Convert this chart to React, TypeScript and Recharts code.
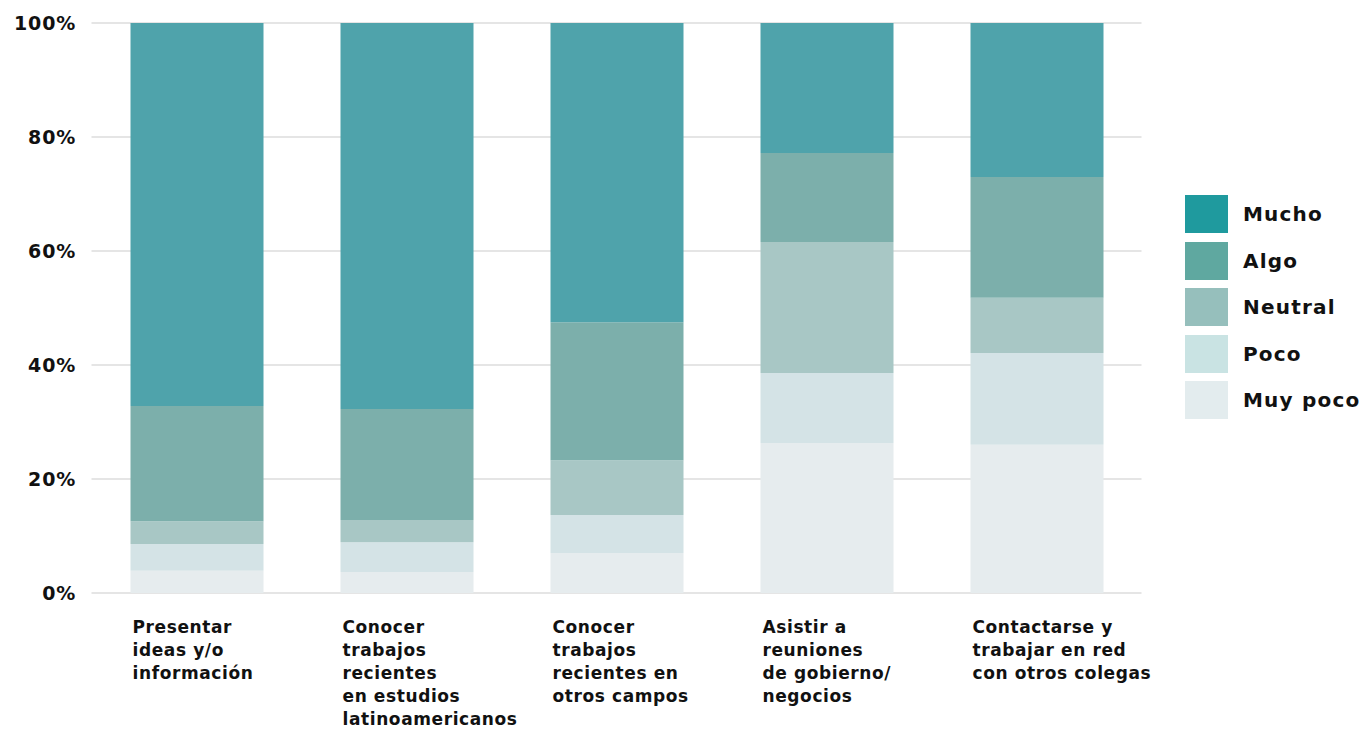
import React from "react";
import { BarChart, Bar, XAxis, YAxis, CartesianGrid } from "recharts";

const categories = [
  "Presentar ideas y/o información",
  "Conocer trabajos recientes en estudios latinoamericanos",
  "Conocer trabajos recientes en otros campos",
  "Asistir a reuniones de gobierno/ negocios",
  "Contactarse y trabajar en red con otros colegas",
];
const categoryLines = [
  ["Presentar", "ideas y/o", "información"],
  ["Conocer", "trabajos", "recientes", "en estudios", "latinoamericanos"],
  ["Conocer", "trabajos", "recientes en", "otros campos"],
  ["Asistir a", "reuniones", "de gobierno/", "negocios"],
  ["Contactarse y", "trabajar en red", "con otros colegas"],
];

const muyPoco = [3.9, 3.7, 7.0, 26.3, 26.0];
const poco = [4.7, 5.2, 6.7, 12.3, 16.1];
const neutral = [4.0, 3.9, 9.6, 23.0, 9.7];
const algo = [20.2, 19.5, 24.2, 15.6, 21.2];
const mucho = [67.2, 67.7, 52.5, 22.8, 27.0];

const yTicks = [0, 20, 40, 60, 80, 100];

const series = [
  { key: "muyPoco", name: "Muy poco", fill: "#e6ecee", legend: "#e3ecee" },
  { key: "poco", name: "Poco", fill: "#d4e3e6", legend: "#c9e3e3" },
  { key: "neutral", name: "Neutral", fill: "#a8c7c5", legend: "#96bfbc" },
  { key: "algo", name: "Algo", fill: "#7cafab", legend: "#5fa8a0" },
  { key: "mucho", name: "Mucho", fill: "#4fa3ab", legend: "#1f9a9e" },
];

const data = categories.map((c, i) => ({
  name: c,
  muyPoco: muyPoco[i],
  poco: poco[i],
  neutral: neutral[i],
  algo: algo[i],
  mucho: mucho[i],
}));

const FONT = "'DejaVu Sans', sans-serif";

const XTick = (props: any) => {
  const { x, index } = props;
  const lines = categoryLines[index] || [];
  return (
    <text
      x={x - 64}
      y={633}
      fontFamily={FONT}
      fontWeight="bold"
      fontSize={17}
      letterSpacing={0.6}
      fill="#111"
    >
      {lines.map((l, i) => (
        <tspan key={i} x={x - 64} dy={i === 0 ? 0 : 23}>
          {l}
        </tspan>
      ))}
    </text>
  );
};

const YTick = (props: any) => {
  const { y, payload } = props;
  return (
    <text x={76} y={y + 7} textAnchor="end" fontFamily={FONT} fontWeight="bold" fontSize={19} letterSpacing={0.8} fill="#111">
      {payload.value + "%"}
    </text>
  );
};

export default function App() {
  const legendItems = [...series].reverse();
  return (
    <div style={{ position: "absolute", left: 0, top: 0, width: 1366, height: 729 }}>
      <BarChart
        width={1366}
        height={729}
        data={data}
        margin={{ top: 23, right: 224.5, left: 0, bottom: 0 }}
      >
        <CartesianGrid vertical={false} stroke="#dcdcdc" strokeWidth={1.5} />
        <XAxis
          dataKey="name"
          height={136}
          axisLine={false}
          tickLine={false}
          interval={0}
          tick={<XTick />}
        />
        <YAxis
          width={91.5}
          domain={[0, 100]}
          ticks={yTicks}
          axisLine={false}
          tickLine={false}
          tick={<YTick />}
        />
        {series.map((s) => (
          <Bar
            key={s.key}
            dataKey={s.key}
            name={s.name}
            stackId="a"
            fill={s.fill}
            barSize={133}
            isAnimationActive={false}
          />
        ))}
      </BarChart>
      <div style={{ position: "absolute", left: 1185, top: 191 }}>
        {legendItems.map((s) => (
          <div key={s.key} style={{ display: "flex", alignItems: "center", height: 46.5 }}>
            <div style={{ width: 43, height: 38, background: s.legend, marginRight: 15 }} />
            <span style={{ fontFamily: FONT, fontWeight: "bold", fontSize: 20, letterSpacing: 1.2, color: "#111" }}>
              {s.name}
            </span>
          </div>
        ))}
      </div>
    </div>
  );
}
